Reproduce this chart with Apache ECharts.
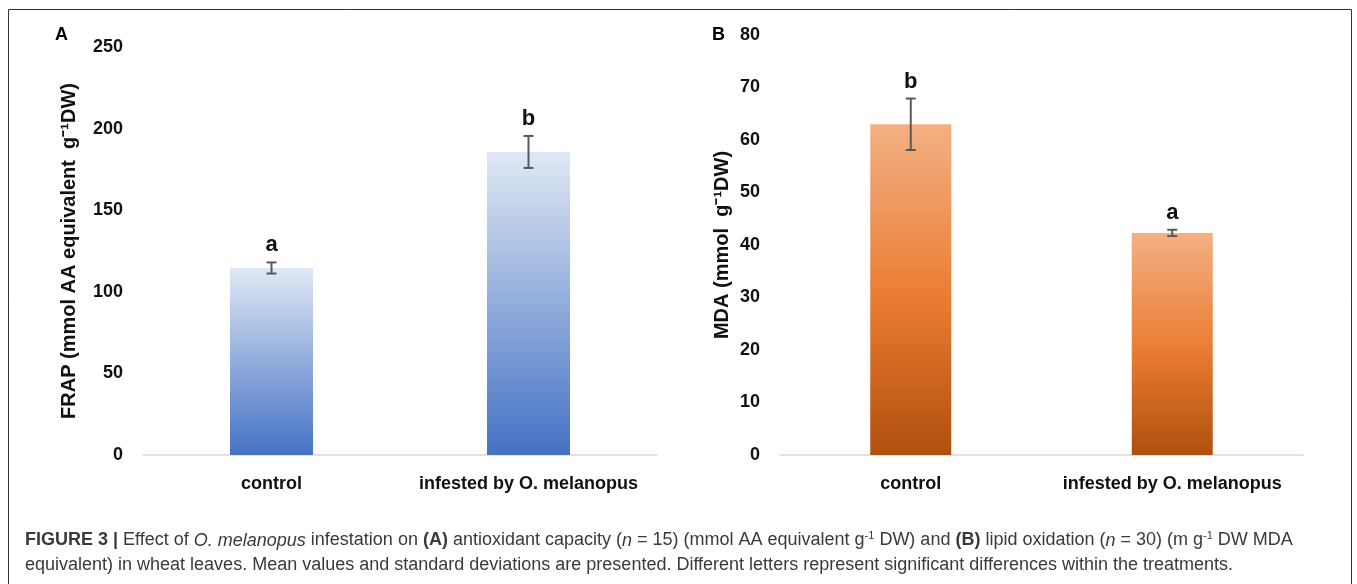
<!DOCTYPE html>
<html>
<head>
<meta charset="utf-8">
<script src="https://cdn.jsdelivr.net/npm/echarts@6/dist/echarts.min.js"></script>
<style>
  html, body { margin: 0; padding: 0; background: #fff; }
  #chart { width: 1357px; height: 584px; }
</style>
</head>
<body>
<div id="chart"></div>
<script>
// data
const categories = ['control', 'infested by O. melanopus'];
const frapMean = [114.6, 185.7];
const frapSd = [3.4, 9.8];
const frapLetters = ['a', 'b'];
const mdaMean = [63.0, 42.3];
const mdaSd = [4.9, 0.6];
const mdaLetters = ['b', 'a'];
const frapTicks = { min: 0, max: 250, interval: 50 };
const mdaTicks = { min: 0, max: 80, interval: 10 };

const chartFont = 'Liberation Sans';
const capFont = 'Liberation Sans';

const chart = echarts.init(document.getElementById('chart'));

function errorSeries(mean, sd, letters, idx) {
    return {
        type: 'custom',
        xAxisIndex: idx,
        yAxisIndex: idx,
        z: 5,
        data: mean.map((m, i) => [i, m, sd[i]]),
        renderItem: function (params, api) {
            const x = api.value(0), m = api.value(1), s = api.value(2);
            const hi = api.coord([x, m + s]);
            const lo = api.coord([x, m - s]);
            const cap = 5;
            const st = { stroke: '#595959', lineWidth: 2 };
            return {
                type: 'group',
                children: [
                    { type: 'line', shape: { x1: hi[0], y1: hi[1], x2: lo[0], y2: lo[1] }, style: st },
                    { type: 'line', shape: { x1: hi[0] - cap, y1: hi[1], x2: hi[0] + cap, y2: hi[1] }, style: st },
                    { type: 'line', shape: { x1: lo[0] - cap, y1: lo[1], x2: lo[0] + cap, y2: lo[1] }, style: st },
                    {
                        type: 'text',
                        style: {
                            text: letters[params.dataIndex],
                            x: hi[0], y: hi[1] - 6,
                            align: 'center', verticalAlign: 'bottom',
                            fontFamily: chartFont, fontWeight: 'bold', fontSize: 22,
                            fill: '#111'
                        }
                    }
                ]
            };
        }
    };
}

const blueGrad = new echarts.graphic.LinearGradient(0, 0, 0, 1, [
    { offset: 0, color: '#e0e8f5' },
    { offset: 1, color: '#4472c4' }
]);
const orangeGrad = new echarts.graphic.LinearGradient(0, 0, 0, 1, [
    { offset: 0, color: '#f3b084' },
    { offset: 0.52, color: '#ea7d33' },
    { offset: 1, color: '#b14f0f' }
]);

const axisLabelStyle = { color: '#111', fontFamily: chartFont, fontWeight: 'bold', fontSize: 18 };
const axisNameStyle = { color: '#111', fontFamily: chartFont, fontWeight: 'bold', fontSize: 20 };

chart.setOption({
    backgroundColor: '#fff',
    animation: false,
    grid: [
        { left: 143, top: 47, width: 514, height: 408 },
        { left: 780, top: 35, width: 523, height: 420 }
    ],
    xAxis: [0, 1].map(i => ({
        type: 'category',
        gridIndex: i,
        data: categories,
        axisLine: { lineStyle: { color: '#d9d9d9', width: 1.5 } },
        axisTick: { show: false },
        axisLabel: Object.assign({ margin: 20, interval: 0 }, axisLabelStyle)
    })),
    yAxis: [
        {
            type: 'value', gridIndex: 0,
            min: frapTicks.min, max: frapTicks.max, interval: frapTicks.interval,
            name: 'FRAP (mmol AA equivalent  g\u207B\u00B9DW)',
            nameLocation: 'middle', nameGap: 64,
            nameTextStyle: axisNameStyle,
            axisLine: { show: false }, axisTick: { show: false },
            splitLine: { show: false },
            axisLabel: Object.assign({ margin: 20 }, axisLabelStyle)
        },
        {
            type: 'value', gridIndex: 1,
            min: mdaTicks.min, max: mdaTicks.max, interval: mdaTicks.interval,
            name: 'MDA (mmol  g\u207B\u00B9DW)',
            nameLocation: 'middle', nameGap: 48,
            nameTextStyle: axisNameStyle,
            axisLine: { show: false }, axisTick: { show: false },
            splitLine: { show: false },
            axisLabel: Object.assign({ margin: 20 }, axisLabelStyle)
        }
    ],
    series: [
        {
            name: 'FRAP', type: 'bar', xAxisIndex: 0, yAxisIndex: 0,
            barWidth: 83,
            itemStyle: { color: blueGrad },
            data: frapMean
        },
        {
            name: 'MDA', type: 'bar', xAxisIndex: 1, yAxisIndex: 1,
            barWidth: 81,
            itemStyle: { color: orangeGrad },
            data: mdaMean
        },
        errorSeries(frapMean, frapSd, frapLetters, 0),
        errorSeries(mdaMean, mdaSd, mdaLetters, 1)
    ],
    graphic: [
        {
            type: 'rect', silent: true,
            shape: { x: 8.5, y: 9.5, width: 1343, height: 620 },
            style: { fill: null, stroke: '#333', lineWidth: 1 }
        },
        {
            type: 'text', left: 55, top: 26,
            style: { text: 'A', fontFamily: chartFont, fontWeight: 'bold', fontSize: 18, fill: '#000' }
        },
        {
            type: 'text', left: 712, top: 26,
            style: { text: 'B', fontFamily: chartFont, fontWeight: 'bold', fontSize: 18, fill: '#000' }
        },
        {
            type: 'text', left: 25, top: 528,
            style: {
                text: '{b|FIGURE 3 |} Effect of {i|O. melanopus} infestation on {b|(A)} antioxidant capacity ({i|n} = 15) (mmol AA equivalent g{s|-1} DW) and {b|(B)} lipid oxidation ({i|n} = 30) (m g{s|-1} DW MDA\nequivalent) in wheat leaves. Mean values and standard deviations are presented. Different letters represent significant differences within the treatments.',
                fontFamily: capFont, fontSize: 18, fill: '#3a3a3a', lineHeight: 25,
                rich: {
                    b: { fontFamily: capFont, fontSize: 18, fontWeight: 'bold', fill: '#3a3a3a', lineHeight: 25 },
                    i: { fontFamily: capFont, fontSize: 18, fontStyle: 'italic', fill: '#3a3a3a', lineHeight: 25 },
                    s: { fontFamily: capFont, fontSize: 11, fill: '#3a3a3a', lineHeight: 25, padding: [0, 0, 10, 0] }
                }
            }
        }
    ]
});
</script>
</body>
</html>
